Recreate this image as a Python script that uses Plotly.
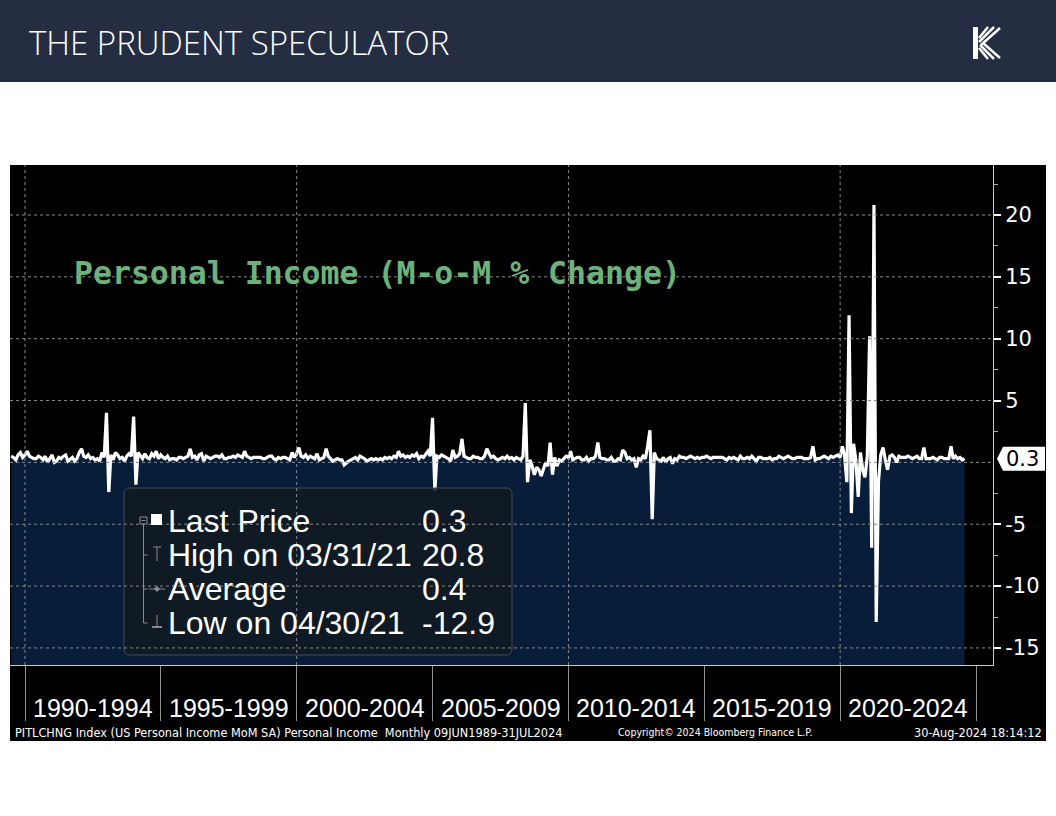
import numpy as np
import pandas as pd
import plotly.graph_objects as go

W, H = 1056, 816

# ---------------- data (US personal income, M-o-M % change, monthly) ----------------
start_month = "1989-06-30"

mom_1989_1994 = [
    0.5, 0.4, 0.2, 0.6, 0.8, 0.4, 0.6,
    0.9, 0.5, 0.4, 0.3, 0.3, 0.5, 0.4, 0.2, 0.5, 0.0, 0.3, 0.6,
    0.0, 0.1, 0.4, 0.3, 0.5, 0.6, 0.1, 0.3, 0.4, 0.1, 0.3, 0.8,
    1.1, 0.5, 0.4, 0.6, 0.3, 0.4, 0.2, 0.3, 0.1, 0.8, 0.4, 4.0,
    -2.4, 0.6, 0.2, 0.8, 0.6, 0.3, 0.4, 0.1, 0.5, 0.7, 0.5, 3.7,
    -1.8, 0.8, 0.5, 0.3, 0.7, 0.4, 0.3, 0.7, 0.5, 0.9, 0.3, 0.6,
]
mom_1995_1999 = [
    0.4, 0.3, 0.5, 0.2, 0.3, 0.3, 0.2, 0.4, 0.4, 0.3, 0.4, 0.5,
    1.1, 0.4, 0.5, 0.2, 0.6, 0.7, 0.1, 0.5, 0.4, 0.3, 0.4, 0.5,
    0.5, 0.4, 0.6, 0.3, 0.3, 0.4, 0.4, 0.5, 0.4, 0.6, 0.5, 0.4,
    0.9, 0.5, 0.4, 0.3, 0.4, 0.4, 0.4, 0.4, 0.3, 0.3, 0.4, 0.5,
    0.5, 0.3, 0.2, 0.4, 0.3, 0.4, 0.4, 0.3, 0.2, 0.8, 0.4, 0.7,
]
mom_2000_2004 = [
    1.2, 0.5, 0.4, 0.6, 0.3, 0.5, 0.4, 0.3, 0.7, 0.2, 0.3, 0.4,
    1.1, 0.5, 0.3, 0.1, 0.2, 0.3, 0.2, 0.2, -0.2, 0.0, 0.1, 0.2,
    0.3, 0.4, 0.2, 0.5, 0.4, 0.3, 0.1, 0.2, 0.3, 0.2, 0.3, 0.2,
    0.3, 0.2, 0.4, 0.3, 0.4, 0.3, 0.5, 0.4, 0.9, 0.5, 0.6, 0.4,
    0.5, 0.4, 0.6, 0.5, 0.7, 0.3, 0.5, 0.4, 0.6, 0.9, 0.5, 3.6,
]
mom_2005_2009 = [
    -2.3, 0.5, 0.4, 0.6, 0.5, 0.4, 0.3, 0.1, 1.0, 0.4, 0.5, 0.7,
    1.9, 0.5, 0.4, 0.3, 0.3, 0.5, 0.4, 0.4, 0.3, 0.3, 0.5, 1.1,
    0.7, 0.4, 0.5, 0.3, 0.2, 0.3, 0.4, 0.3, 0.5, 0.3, 0.4, 0.2,
    0.4, 0.3, 0.2, 0.5, 4.8, -1.6, 0.2, -0.3, -1.0, -0.4, -0.6, -1.1,
    -0.5, 0.0, -0.3, 1.6, -1.0, 0.4, -0.3, 0.2, 0.1, 0.3, 0.5, 0.4,
]
mom_2010_2014 = [
    0.9, 0.2, 0.3, 0.4, 0.4, 0.2, 0.2, 0.4, 0.1, 0.3, 0.3, 0.5,
    1.6, 0.4, 0.3, 0.3, 0.2, 0.2, 0.4, 0.1, 0.1, 0.3, 0.2, 1.0,
    0.8, 0.3, 0.4, 0.2, 0.3, -0.4, 0.3, 0.2, 0.5, 0.3, 1.3, 2.6,
    -4.6, 0.8, 0.3, 0.2, 0.1, 0.4, 0.0, 0.3, 0.4, -0.1, 0.3, 0.2,
    0.5, 0.4, 0.4, 0.3, 0.4, 0.5, 0.4, 0.3, 0.4, 0.3, 0.4, 0.4,
]
mom_2015_2019 = [
    0.5, 0.4, 0.3, 0.4, 0.4, 0.4, 0.4, 0.4, 0.3, 0.2, 0.4, 0.3,
    0.4, 0.3, 0.2, 0.5, 0.3, 0.3, 0.4, 0.3, 0.5, 0.3, 0.1, 0.4,
    0.4, 0.3, 0.3, 0.3, 0.4, 0.2, 0.3, 0.3, 0.5, 0.4, 0.3, 0.4,
    0.5, 0.4, 0.3, 0.3, 0.4, 0.4, 0.4, 0.3, 0.3, 0.3, 0.4, 1.3,
    0.2, 0.3, 0.3, 0.4, 0.5, 0.4, 0.3, 0.5, 0.4, 0.5, 0.6, 0.4,
]
mom_2020_2024 = [
    1.3, 0.6, -1.6, 11.9, -4.1, 1.5, 0.2, -2.8, 0.8, -0.6, -1.2, 0.5,
    10.2, -6.9, 20.8, -12.9, -1.5, 0.6, 1.2, 0.2, -0.6, 0.5, 0.6, 0.4,
    0.0, 0.5, 0.4, 0.4, 0.4, 0.5, 0.4, 0.3, 0.4, 0.5, 0.3, 0.3,
    1.2, 0.3, 0.3, 0.3, 0.4, 0.3, 0.2, 0.4, 0.4, 0.3, 0.3, 0.3,
    1.3, 0.3, 0.5, 0.3, 0.4, 0.2, 0.3,
]

period_labels = ["1990-1994", "1995-1999", "2000-2004", "2005-2009",
                 "2010-2014", "2015-2019", "2020-2024"]
period_starts = ["1990-01-01", "1995-01-01", "2000-01-01", "2005-01-01",
                 "2010-01-01", "2015-01-01", "2020-01-01", "2025-01-01"]
grid_years = ["1990-01-01", "2000-01-01", "2010-01-01", "2020-01-01"]
y_ticks = [-15, -10, -5, 5, 10, 15, 20]
y_grid = [-15, -10, -5, 0, 5, 10, 15, 20]
y_minor = [-12.5, -7.5, -2.5, 2.5, 7.5, 12.5, 17.5, 22.5]

values = np.array(mom_1989_1994 + mom_1995_1999 + mom_2000_2004 + mom_2005_2009
                  + mom_2010_2014 + mom_2015_2019 + mom_2020_2024)
dates = pd.date_range(start_month, periods=len(values), freq="ME")

last_v = values[-1]
hi_i, lo_i = int(values.argmax()), int(values.argmin())
avg_v = values.mean()

# ---------------- geometry helpers (pixel -> paper) ----------------
def px(x):
    return x / W

def py(y):
    return 1 - y / H

PL, PR, PT, PB = 10, 993, 165, 665
Y_RANGE = [-16.38, 24.04]
X_RANGE = ["1989-06-13", "2025-08-17"]

FILL = "#081d3a"
GRID = "#8a8a8a"

fig = go.Figure()

bottom = Y_RANGE[0] - 2
fig.add_trace(go.Scatter(x=dates, y=[bottom] * len(values), mode="lines",
                         line=dict(width=0), hoverinfo="skip", showlegend=False))
fig.add_trace(go.Scatter(x=dates, y=values, mode="lines", fill="tonexty",
                         fillcolor=FILL, line=dict(color="white", width=3.2),
                         showlegend=False))

shapes = []
# header bar
shapes.append(dict(type="rect", xref="paper", yref="paper", x0=0, x1=1,
                   y0=py(82), y1=1, fillcolor="#252d42", line=dict(width=0), layer="below"))
# black chart panel
shapes.append(dict(type="rect", xref="paper", yref="paper", x0=px(10), x1=px(1046),
                   y0=py(741), y1=py(165), fillcolor="black", line=dict(width=0), layer="below"))

# legend box (rounded, semi transparent)
bx0, bx1, by0, by1, r = 124, 512, 488, 655, 6
path = (f"M {px(bx0 + r)},{py(by0)} L {px(bx1 - r)},{py(by0)} "
        f"Q {px(bx1)},{py(by0)} {px(bx1)},{py(by0 + r)} "
        f"L {px(bx1)},{py(by1 - r)} Q {px(bx1)},{py(by1)} {px(bx1 - r)},{py(by1)} "
        f"L {px(bx0 + r)},{py(by1)} Q {px(bx0)},{py(by1)} {px(bx0)},{py(by1 - r)} "
        f"L {px(bx0)},{py(by0 + r)} Q {px(bx0)},{py(by0)} {px(bx0 + r)},{py(by0)} Z")
shapes.append(dict(type="path", xref="paper", yref="paper", path=path,
                   fillcolor="rgba(18,26,34,0.86)", line=dict(color="#454b54", width=1),
                   layer="above"))

# dotted grid
for v in y_grid:
    shapes.append(dict(type="line", xref="paper", yref="y", x0=px(PL), x1=px(PR), y0=v, y1=v,
                       line=dict(color=GRID, width=1, dash="dot"), layer="above"))
for d in grid_years:
    shapes.append(dict(type="line", xref="x", yref="paper", x0=d, x1=d, y0=py(PB), y1=py(PT),
                       line=dict(color=GRID, width=1, dash="dot"), layer="above"))

# legend tree icons
ICON = "#8c8c8c"
def seg(x0, y0, x1, y1, color=ICON, w=1):
    shapes.append(dict(type="line", xref="paper", yref="paper", x0=px(x0), y0=py(y0),
                       x1=px(x1), y1=py(y1), line=dict(color=color, width=w), layer="above"))

shapes.append(dict(type="rect", xref="paper", yref="paper", x0=px(140), x1=px(147),
                   y0=py(524), y1=py(517), line=dict(color=ICON, width=1),
                   fillcolor="rgba(0,0,0,0)", layer="above"))
seg(141.5, 520.5, 145.5, 520.5)
seg(143.5, 524, 143.5, 623)
for yy in (555, 589, 623):
    seg(143.5, yy, 147.5, yy)
shapes.append(dict(type="rect", xref="paper", yref="paper", x0=px(151), x1=px(162),
                   y0=py(525), y1=py(514), fillcolor="white", line=dict(width=0), layer="above"))
seg(153, 547, 161, 547)
seg(157, 547, 157, 561)
seg(149, 589, 165, 589)
shapes.append(dict(type="path", xref="paper", yref="paper",
                   path=f"M {px(157)},{py(586)} L {px(160)},{py(589)} L {px(157)},{py(592)} L {px(154)},{py(589)} Z",
                   fillcolor=ICON, line=dict(width=0), layer="above"))
seg(157, 615, 157, 627)
seg(152, 627, 162, 627, w=2)

# last-value tag on right axis
tag_h = 0.97
shapes.append(dict(type="path", xref="paper", yref="y",
                   path=(f"M {px(997)},{last_v} L {px(1003)},{last_v + tag_h} "
                         f"L {px(1045)},{last_v + tag_h} L {px(1045)},{last_v - tag_h} "
                         f"L {px(1003)},{last_v - tag_h} Z"),
                   fillcolor="white", line=dict(width=0), layer="above"))

# logo
shapes.append(dict(type="rect", xref="paper", yref="paper", x0=px(973), x1=px(978),
                   y0=py(59), y1=py(27), fillcolor="white", line=dict(width=0), layer="above"))
for (a, b, c, d) in [(979, 38, 988, 27), (979, 42, 994, 27), (981, 45, 1000, 28),
                     (979, 48, 988, 59), (980, 45, 994, 59), (983, 43, 1000, 58)]:
    seg(a, b, c, d, color="white", w=2.5)

fig.update_layout(shapes=shapes)

ann = []
# header title
ann.append(dict(text="THE PRUDENT SPECULATOR", xref="paper", yref="paper", x=px(27), y=py(42),
                xanchor="left", yanchor="middle", showarrow=False,
                font=dict(family="Open Sans", size=33, color="white", weight=300)))
# chart title
ann.append(dict(text="Personal Income (M-o-M % Change)", xref="paper", yref="paper",
                x=px(72), y=py(273), xanchor="left", yanchor="middle", showarrow=False,
                font=dict(family="DejaVu Sans Mono", size=31.5, color="#6db27a", weight="bold")))
# period labels
for i, lab in enumerate(period_labels):
    mid = pd.Timestamp(period_starts[i]) + (pd.Timestamp(period_starts[i + 1]) - pd.Timestamp(period_starts[i])) / 2
    ann.append(dict(text=lab, xref="x", yref="paper", x=mid, y=py(708),
                    xanchor="center", yanchor="middle", showarrow=False,
                    font=dict(family="Liberation Sans", size=25, color="white")))
# legend rows
rows = [("Last Price", f"{last_v:.1f}"),
        (f"High on {dates[hi_i].strftime('%m/%d/%y')}", f"{values[hi_i]:.1f}"),
        ("Average", f"{avg_v:.1f}"),
        (f"Low on {dates[lo_i].strftime('%m/%d/%y')}", f"{values[lo_i]:.1f}")]
for k, (lab, val) in enumerate(rows):
    yy = 521 + 34 * k
    ann.append(dict(text=lab, xref="paper", yref="paper", x=px(166), y=py(yy),
                    xanchor="left", yanchor="middle", showarrow=False,
                    font=dict(family="Liberation Sans", size=32, color="white")))
    ann.append(dict(text=val, xref="paper", yref="paper", x=px(420), y=py(yy),
                    xanchor="left", yanchor="middle", showarrow=False,
                    font=dict(family="Liberation Sans", size=32, color="white")))
# tag text
ann.append(dict(text=f"{last_v:.1f}", xref="paper", yref="y", x=px(1004), y=last_v,
                xanchor="left", yanchor="middle", showarrow=False,
                font=dict(family="DejaVu Sans", size=21, color="black")))
# footer
FOOT = dict(family="DejaVu Sans Condensed, Liberation Sans", size=12.6, color="white")
ann.append(dict(text="PITLCHNG Index (US Personal Income MoM SA) Personal Income  Monthly 09JUN1989-31JUL2024",
                xref="paper", yref="paper", x=px(13), y=py(732), xanchor="left", yanchor="middle",
                showarrow=False, font=FOOT))
ann.append(dict(text="Copyright© 2024 Bloomberg Finance L.P.", xref="paper", yref="paper",
                x=px(715), y=py(732), xanchor="center", yanchor="middle", showarrow=False,
                font=dict(family="DejaVu Sans Condensed, Liberation Sans", size=10.5, color="white")))
ann.append(dict(text="30-Aug-2024 18:14:12", xref="paper", yref="paper", x=px(1044), y=py(732),
                xanchor="right", yanchor="middle", showarrow=False, font=FOOT))
fig.update_layout(annotations=ann)

fig.update_layout(
    width=W, height=H, autosize=False,
    margin=dict(l=0, r=0, t=0, b=0, pad=0),
    paper_bgcolor="white", plot_bgcolor="black",
    showlegend=False,
    xaxis=dict(type="date", range=X_RANGE, domain=[px(PL), px(PR)],
               showgrid=False, zeroline=False, showline=True, linecolor="#c8c8c8", linewidth=1,
               ticks="outside", tickmode="array", tickvals=period_starts, ticklen=55,
               tickcolor="#8f8f8f", tickwidth=1, showticklabels=False),
    yaxis=dict(range=Y_RANGE, domain=[py(PB), py(PT)], side="right",
               showgrid=False, zeroline=False, showline=True, linecolor="#c8c8c8", linewidth=1,
               ticks="outside", tickmode="array", tickvals=y_ticks,
               ticktext=[str(v) for v in y_ticks], ticklen=7, tickwidth=2, tickcolor="white",
               tickfont=dict(family="DejaVu Sans", size=21, color="white"),
               minor=dict(tickmode="array", tickvals=y_minor, ticks="outside", ticklen=4,
                          tickcolor="#aaaaaa", tickwidth=1)),
)

fig.write_html("out.html")
